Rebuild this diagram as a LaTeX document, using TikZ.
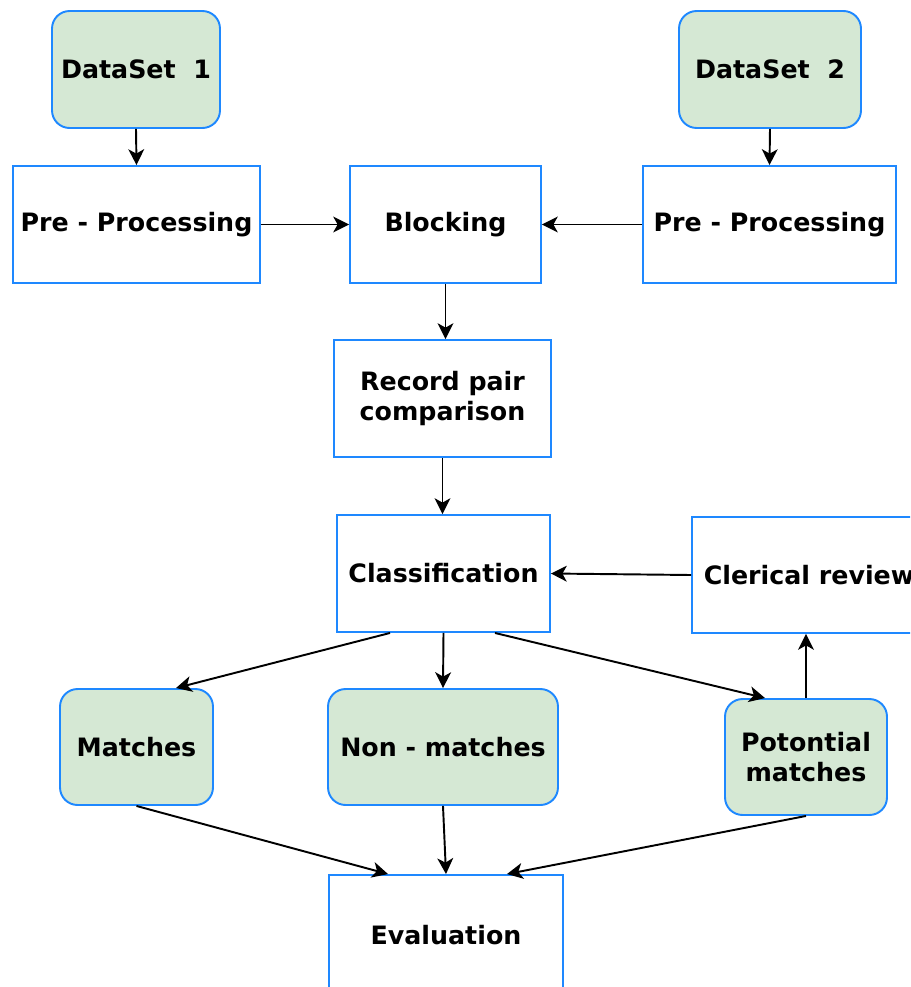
\documentclass[tikz,border=0pt]{standalone}
\usepackage{fontspec}
\setmainfont{DejaVu Sans}
\usepackage{xcolor}
\usetikzlibrary{arrows.meta}
\definecolor{boxblue}{RGB}{30,136,255}
\definecolor{boxgreen}{RGB}{213,232,212}
\tikzset{
  proc/.style = {draw = boxblue, line width = 1.1pt, fill = white, align = center,
    font = \bfseries\fontsize{14.4}{17}\selectfont, inner sep = 0pt},
  data/.style = {proc, fill = boxgreen, rounded corners = 10pt},
  flow/.style = {-{Stealth[length = 9pt, width = 9pt, inset = 2.5pt]}, line width = 1.1pt}
}

\begin{document}
\begin{tikzpicture}[x = .02cm, y = .02cm]
  \clip (0, 0) rectangle (910, -987);
  \fill[white] (0, 0) rectangle (910, -987);
  \node[data, minimum width = 3.36cm, minimum height = 2.34cm] at (136, -69.5) (ds1) {DataSet~~1};
  \node[data, minimum width = 3.64cm, minimum height = 2.34cm] at (770, -69.5) (ds2) {DataSet~~2};
  \node[proc, minimum width = 4.94cm, minimum height = 2.34cm] at (136.5, -224.5) (pp1) {Pre - Processing};
  \node[proc, minimum width = 3.82cm, minimum height = 2.34cm] at (445.5, -224.5) (block) {Blocking};
  \node[proc, minimum width = 5.06cm, minimum height = 2.34cm] at (769.5, -224.5) (pp2) {Pre - Processing};
  \node[proc, minimum width = 4.34cm, minimum height = 2.34cm] at (442.5, -398.5) (rpc) {Record pair\\comparison};
  \node[proc, minimum width = 4.26cm, minimum height = 2.34cm] at (443.5, -573.5) (class) {Classification};
  \node[proc, minimum width = 4.68cm, minimum height = 2.32cm] at (809, -575) (cler) {Clerical review};
  \node[data, minimum width = 3.06cm, minimum height = 2.32cm] at (136.5, -747) (match) {Matches};
  \node[data, minimum width = 4.6cm, minimum height = 2.32cm] at (443, -747) (nonm) {Non - matches};
  \node[data, minimum width = 3.24cm, minimum height = 2.32cm] at (806, -757) (pot) {Potontial\\matches};
  \node[proc, minimum width = 4.68cm, minimum height = 2.4cm] at (446, -935) (eval) {Evaluation};
  \draw[flow] (ds1.south) -- (pp1.north);
  \draw[flow] (ds2.south) -- (pp2.north);
  \draw[flow] (pp1) -- (block);
  \draw[flow] (pp2) -- (block);
  \draw[flow] (block.south) -- (block.south |- rpc.north);
  \draw[flow] (rpc.south) -- (rpc.south |- class.north);
  \draw[flow] (cler.west) -- (class.east);
  \draw[flow] ([xshift = -1.07cm]class.south) -- ([xshift = .79cm]match.north);
  \draw[flow] (class.south) -- (nonm.north);
  \draw[flow] ([xshift = 1.03cm]class.south) -- ([xshift = -.82cm]pot.north);
  \draw[flow] (pot.north) -- (pot.north |- cler.south);
  \draw[flow] (match.south) -- ([xshift = -1.16cm]eval.north);
  \draw[flow] (nonm.south) -- (eval.north);
  \draw[flow] (pot.south) -- ([xshift = 1.22cm]eval.north);
\end{tikzpicture}
\end{document}
